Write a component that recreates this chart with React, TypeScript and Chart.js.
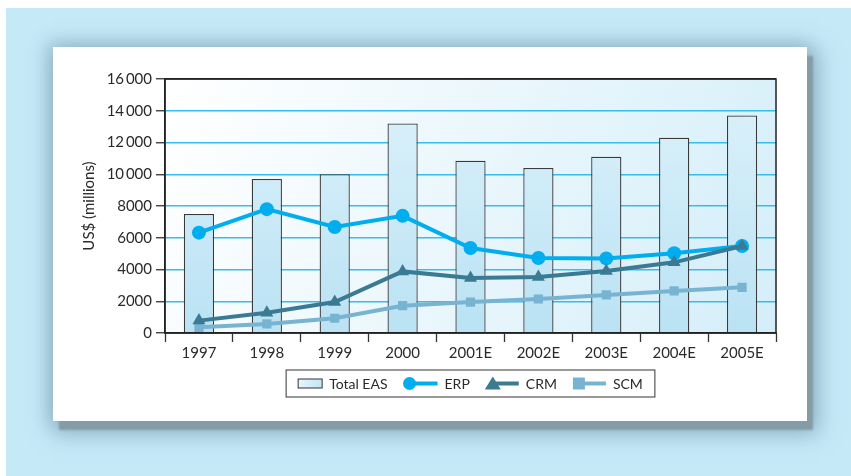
import React, { useEffect, useRef } from "react";
import { Chart, registerables } from "chart.js";

Chart.register(...registerables);

const categories = ["1997", "1998", "1999", "2000", "2001E", "2002E", "2003E", "2004E", "2005E"];
const totalEAS = [7500, 9700, 10000, 13200, 10850, 10400, 11100, 12300, 13700];
const erp = [6320, 7800, 6680, 7380, 5350, 4720, 4700, 5020, 5480];
const crm = [780, 1280, 1950, 3880, 3460, 3530, 3900, 4450, 5480];
const scm = [360, 570, 930, 1720, 1950, 2140, 2400, 2650, 2880];
const yTicks = [0, 2000, 4000, 6000, 8000, 10000, 12000, 14000, 16000];

const FONT = "Lato";
const TXT = "#2a2a2a";
const C_ERP = "#00aeef";
const C_CRM = "#3b7a93";
const C_SCM = "#78b4d2";

function fmt(v: number): string {
  if (v >= 10000) {
    const s = String(v);
    return s.slice(0, s.length - 3) + "\u2009" + s.slice(s.length - 3);
  }
  return String(v);
}

const framePlugin = {
  id: "frame",
  beforeDraw(chart: any) {
    const { ctx, chartArea: a } = chart;
    ctx.save();
    const g = ctx.createLinearGradient(a.left, a.top, a.right, a.bottom);
    g.addColorStop(0, "#ffffff");
    g.addColorStop(1, "#d4eef9");
    ctx.fillStyle = g;
    ctx.fillRect(a.left, a.top, a.right - a.left, a.bottom - a.top);
    ctx.restore();
  },
  afterDraw(chart: any) {
    const { ctx, chartArea: a } = chart;
    ctx.save();
    ctx.strokeStyle = "#222";
    ctx.lineWidth = 1.5;
    ctx.strokeRect(a.left, a.top, a.right - a.left, a.bottom - a.top);
    ctx.restore();

    // custom legend
    ctx.save();
    ctx.font = `14px ${FONT}`;
    ctx.textBaseline = "middle";
    const items = [
      { label: "Total EAS", kind: "bar", sw: 24 },
      { label: "ERP", kind: "circle", sw: 35 },
      { label: "CRM", kind: "triangle", sw: 34 },
      { label: "SCM", kind: "square", sw: 34 },
    ];
    const gapText = 7;
    const gapItem = 15;
    const pad = 12;
    let total = pad * 2;
    items.forEach((it, i) => {
      total += it.sw + gapText + ctx.measureText(it.label).width;
      if (i < items.length - 1) total += gapItem;
    });
    const cx = (a.left + a.right) / 2;
    const bx = cx - total / 2;
    const by = a.bottom + 37;
    const bh = 27;
    ctx.fillStyle = "#fff";
    ctx.fillRect(bx, by, total, bh);
    ctx.strokeStyle = "#555";
    ctx.lineWidth = 1.2;
    ctx.strokeRect(bx, by, total, bh);
    const my = by + bh / 2;
    let x = bx + pad;
    items.forEach((it) => {
      if (it.kind === "bar") {
        const g = ctx.createLinearGradient(x, my - 5, x + 24, my + 5);
        g.addColorStop(0, "#eaf7fd");
        g.addColorStop(1, "#bfe4f5");
        ctx.fillStyle = g;
        ctx.fillRect(x, my - 4.5, 24, 9);
        ctx.strokeStyle = "#333";
        ctx.lineWidth = 1;
        ctx.strokeRect(x, my - 4.5, 24, 9);
      } else {
        const col = it.kind === "circle" ? C_ERP : it.kind === "triangle" ? C_CRM : C_SCM;
        ctx.strokeStyle = col;
        ctx.fillStyle = col;
        ctx.lineWidth = 4;
        const m = x + 7;
        ctx.beginPath();
        ctx.moveTo(m, my);
        ctx.lineTo(x + it.sw, my);
        ctx.stroke();
        ctx.beginPath();
        if (it.kind === "circle") {
          ctx.arc(m, my, 6.5, 0, Math.PI * 2);
        } else if (it.kind === "triangle") {
          ctx.moveTo(m + 1, my - 7);
          ctx.lineTo(m + 9, my + 6);
          ctx.lineTo(m - 7, my + 6);
          ctx.closePath();
        } else {
          ctx.rect(m - 6, my - 6, 12, 12);
        }
        ctx.fill();
      }
      x += it.sw + gapText;
      ctx.fillStyle = TXT;
      ctx.fillText(it.label, x, my + 1);
      x += ctx.measureText(it.label).width + gapItem;
    });
    ctx.restore();
  },
};

function App() {
  const ref = useRef<HTMLCanvasElement | null>(null);
  useEffect(() => {
    const canvas = ref.current;
    if (!canvas) return;
    const ctx = canvas.getContext("2d")!;
    const barGrad = ctx.createLinearGradient(0, 60, 0, 290);
    barGrad.addColorStop(0, "#daf0fa");
    barGrad.addColorStop(1, "#b9e2f4");

    const chart = new Chart(canvas, {
      type: "bar",
      data: {
        labels: categories,
        datasets: [
          {
            type: "line",
            label: "ERP",
            data: erp,
            borderColor: C_ERP,
            backgroundColor: C_ERP,
            borderWidth: 4,
            pointStyle: "circle",
            pointRadius: 7,
            pointBorderWidth: 0,
            order: 3,
          },
          {
            type: "line",
            label: "SCM",
            data: scm,
            borderColor: C_SCM,
            backgroundColor: C_SCM,
            borderWidth: 4,
            pointStyle: "rect",
            pointRadius: 6.5,
            pointBorderWidth: 0,
            order: 2,
          },
          {
            type: "line",
            label: "CRM",
            data: crm,
            borderColor: C_CRM,
            backgroundColor: C_CRM,
            borderWidth: 4,
            pointStyle: "triangle",
            pointRadius: 7.5,
            pointBorderWidth: 0,
            order: 1,
          },
          {
            type: "bar",
            label: "Total EAS",
            data: totalEAS,
            backgroundColor: barGrad,
            borderColor: "#3a3a3a",
            borderWidth: 1.3,
            categoryPercentage: 1,
            barPercentage: 0.445,
            order: 10,
          },
        ],
      },
      options: {
        animation: false,
        responsive: false,
        maintainAspectRatio: false,
        layout: { padding: { left: 27, top: 32, right: 31, bottom: 58 } },
        plugins: { legend: { display: false }, tooltip: { enabled: false } },
        scales: {
          x: {
            grid: {
              offset: true,
              drawOnChartArea: false,
              drawTicks: true,
              tickLength: 9,
              tickColor: "#333",
              tickWidth: 1.3,
            },
            border: { display: true, color: "#222", width: 1.5 },
            ticks: { color: TXT, font: { family: FONT, size: 15 }, padding: 2 },
            afterFit(scale: any) {
              scale.height = 30;
            },
          },
          y: {
            min: 0,
            max: 16000,
            afterBuildTicks(scale: any) {
              scale.ticks = yTicks.map((v) => ({ value: v }));
            },
            grid: {
              color: (c: any) => (c.tick && c.tick.value === 16000 ? "#222" : "#35bdec"),
              lineWidth: 1.5,
              tickLength: 9,
              tickColor: "#333",
              tickWidth: 1.3,
            },
            border: { display: true, color: "#222", width: 1.5 },
            ticks: {
              color: TXT,
              font: { family: FONT, size: 15 },
              padding: 4,
              callback: (v: any) => fmt(Number(v)),
            },
            title: {
              display: true,
              text: "US$ (millions)",
              color: TXT,
              font: { family: FONT, size: 15 },
              padding: { top: 0, bottom: 8 },
            },
            afterFit(scale: any) {
              scale.width = 85;
            },
          },
        },
      },
      plugins: [framePlugin],
    });
    return () => chart.destroy();
  }, []);

  return (
    <div
      style={{
        position: "absolute",
        left: 6,
        top: 8,
        width: 845,
        height: 468,
        background: "#c6e9f8",
        overflow: "hidden",
      }}
    >
      <div
        style={{
          position: "absolute",
          left: 47,
          top: 39,
          width: 754,
          height: 374,
          background: "#fff",
          boxShadow:
            "6px 9px 2px 0 #849ca8, 6px 8px 20px 6px rgba(110,145,165,0.55), -2px -2px 16px 4px rgba(120,160,180,0.4)",
        }}
      >
        <canvas ref={ref} width={754} height={374} style={{ display: "block" }} />
      </div>
    </div>
  );
}

export default App;
